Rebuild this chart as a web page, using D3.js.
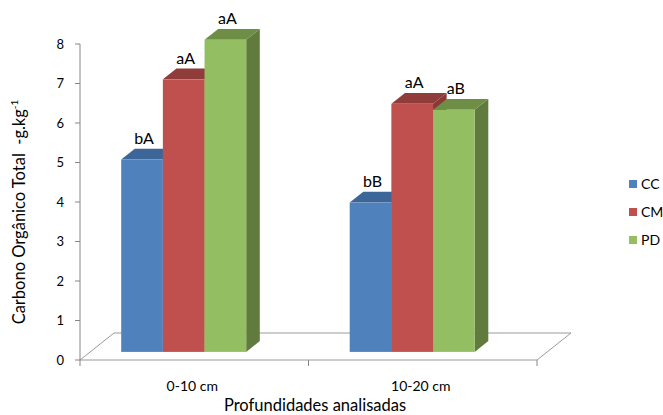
<!DOCTYPE html>
<html>
<head>
<meta charset="utf-8">
<script src="https://cdn.jsdelivr.net/npm/d3@7"></script>
<style>
  body { margin: 0; background: #fff; }
  svg { font-family: Lato, "Open Sans", sans-serif; }
</style>
</head>
<body>
<script>
// chart data
const categories = ['0-10 cm', '10-20 cm'];
const series = ['CC', 'CM', 'PD'];
const valuesCC = [4.87, 3.78];
const valuesCM = [6.9, 6.28];
const valuesPD = [7.9, 6.13];
const labelsCC = ['bA', 'bB'];
const labelsCM = ['aA', 'aA'];
const labelsPD = ['aA', 'aB'];
const yTicks = [0, 1, 2, 3, 4, 5, 6, 7, 8];

const width = 663;
const height = 415;

const colors = {
  CC: {front: '#4f81bd', top: '#3d6698', side: '#385d8b'},
  CM: {front: '#c0504d', top: '#8f3c3a', side: '#8a3836'},
  PD: {front: '#93be62', top: '#6e8e46', side: '#607b3d'}
};

const rows = [];
categories.forEach((c, i) => {
  rows.push({cat: c, s: 'CC', v: valuesCC[i], label: labelsCC[i]});
  rows.push({cat: c, s: 'CM', v: valuesCM[i], label: labelsCM[i]});
  rows.push({cat: c, s: 'PD', v: valuesPD[i], label: labelsPD[i]});
});

// floor depth vector, bars sit between 30% and 70% of it
const depth = [34, -27];
const fFront = 0.3, fBack = 0.7;

const x = d3.scaleBand().domain(categories).range([80, 537]);
const x1 = d3.scaleBand().domain(series).range([31, 156]);
const y = d3.scaleLinear().domain([0, 8]).range([360, 44]);

const svg = d3.select('body').append('svg')
  .attr('width', width).attr('height', height);

// floor
const y0 = y(0);
svg.append('path')
  .attr('d', `M80,${y0}L537,${y0}L${537 + depth[0]},${y0 + depth[1]}L${80 + depth[0]},${y0 + depth[1]}Z`)
  .attr('fill', '#fff')
  .attr('stroke', '#9a9a9a')
  .attr('stroke-width', 1);

// x axis ticks
svg.append('g').selectAll('line')
  .data([80, x(categories[1]), 537])
  .join('line')
  .attr('x1', d => d).attr('x2', d => d)
  .attr('y1', y0).attr('y2', y0 + 6)
  .attr('stroke', '#868686');

svg.append('g').selectAll('text')
  .data(categories)
  .join('text')
  .attr('x', d => x(d) + x.bandwidth() / 2 - 2)
  .attr('y', 391)
  .attr('text-anchor', 'middle')
  .attr('font-size', 14)
  .attr('fill', '#000')
  .text(d => d);

// y axis
svg.append('line')
  .attr('x1', 80).attr('x2', 80)
  .attr('y1', y(8)).attr('y2', y0)
  .attr('stroke', '#868686');

const yt = svg.append('g');
yt.selectAll('line')
  .data(yTicks)
  .join('line')
  .attr('x1', 75).attr('x2', 80)
  .attr('y1', d => y(d)).attr('y2', d => y(d))
  .attr('stroke', '#868686');
yt.selectAll('text')
  .data(yTicks)
  .join('text')
  .attr('x', 64)
  .attr('y', d => y(d) + 4.5)
  .attr('text-anchor', 'end')
  .attr('font-size', 13)
  .attr('fill', '#000')
  .text(d => d);

// bars
const ddx = depth[0] * (fBack - fFront);
const ddy = depth[1] * (fBack - fFront);
const w = x1.bandwidth();

const bars = svg.append('g').selectAll('g')
  .data(rows)
  .join('g');

bars.each(function(d) {
  const g = d3.select(this);
  const bx = x(d.cat) + x1(d.s) + depth[0] * fFront;
  const byT = y(d.v) + depth[1] * fFront;
  const byB = y(0) + depth[1] * fFront;
  const c = colors[d.s];
  g.append('path')
    .attr('d', `M${bx + w},${byT}L${bx + w + ddx},${byT + ddy}L${bx + w + ddx},${byB + ddy}L${bx + w},${byB}Z`)
    .attr('fill', c.side);
  g.append('path')
    .attr('d', `M${bx},${byT}L${bx + w},${byT}L${bx + w + ddx},${byT + ddy}L${bx + ddx},${byT + ddy}Z`)
    .attr('fill', c.top);
  g.append('rect')
    .attr('x', bx).attr('y', byT)
    .attr('width', w).attr('height', byB - byT)
    .attr('fill', c.front);
  g.append('text')
    .attr('x', bx + w / 2 + 2)
    .attr('y', byT + ddy - 5)
    .attr('text-anchor', 'middle')
    .attr('font-size', 16)
    .attr('fill', '#000')
    .text(d.label);
});

// axis titles
svg.append('text')
  .attr('x', 315).attr('y', 411)
  .attr('text-anchor', 'middle')
  .attr('font-size', 16.5)
  .attr('fill', '#000')
  .text('Profundidades analisadas');

const yTitle = svg.append('text')
  .attr('transform', 'translate(25,212) rotate(-90)')
  .attr('text-anchor', 'middle')
  .attr('font-size', 16.5)
  .attr('fill', '#000')
  .style('white-space', 'pre');
yTitle.append('tspan').text('Carbono Orgânico Total  -g.kg');
yTitle.append('tspan').attr('font-size', 10).attr('dy', -7).text('-1');

// legend
const legend = svg.append('g').selectAll('g')
  .data(series)
  .join('g')
  .attr('transform', (d, i) => `translate(629,${184 + i * 28})`);
legend.append('rect')
  .attr('x', 0).attr('y', -4)
  .attr('width', 8).attr('height', 8)
  .attr('fill', d => colors[d].front);
legend.append('text')
  .attr('x', 12).attr('y', 5)
  .attr('font-size', 14)
  .attr('fill', '#000')
  .text(d => d);
</script>
</body>
</html>
